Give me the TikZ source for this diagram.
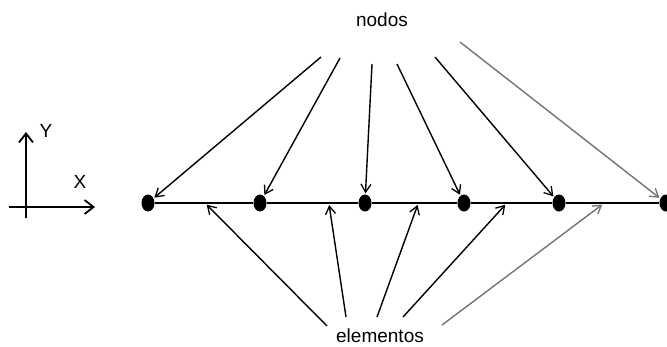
\documentclass[tikz,border=0pt]{standalone}
\usepackage{fontspec}
\setmainfont{Liberation Sans}
\usetikzlibrary{arrows.meta,shapes.geometric}
\begin{document}
\begin{tikzpicture}[x=1pt,y=-1pt,
  dot/.style={ellipse,fill=black,inner sep=0pt,minimum width=13pt,minimum height=17pt},
  lbl/.style={font=\fontsize{19}{19}\selectfont,inner sep=0pt},
  pointer/.style={line width=1.4pt,-{Straight Barb[length=8pt,width=10pt,line width=1.3pt]},shorten >=1pt},
  faint/.style={draw=black!55},
  axis/.style={line width=1.8pt,-{Straight Barb[length=9pt,width=14pt,line width=1.8pt]}}]
\useasboundingbox (0,0) rectangle (667,346);

% axes
\coordinate (ox0) at (9,207);
\coordinate (ox1) at (95,207);
\coordinate (oy0) at (26,218);
\coordinate (oy1) at (26,132);
\draw[axis] (ox0) -- (ox1);
\draw[axis] (oy0) -- (oy1);
\node[lbl] (ylab) at (46,131) {Y};
\node[lbl] (xlab) at (80,182) {X};

% mesh nodes on the bar
\node[dot] (n1) at (148,203) {};
\node[dot] (n2) at (260,203) {};
\node[dot] (n3) at (365,203) {};
\node[dot] (n4) at (464,203) {};
\node[dot] (n5) at (559,203) {};
\node[dot] (n6) at (666,203) {};
\draw[line width=2pt] (n1) -- (n2) -- (n3) -- (n4) -- (n5) -- (n6);

% labels
\node[lbl] (nodos) at (382,20) {nodos};
\node[lbl] (elem) at (380,336) {elementos};

% pointers to the nodes
\coordinate (t1) at (321,57);
\coordinate (t2) at (340,58);
\coordinate (t3) at (372,64);
\coordinate (t4) at (397,64);
\coordinate (t5) at (435,57);
\coordinate (t6) at (460,42);
\draw[pointer] (t1) -- (n1);
\draw[pointer] (t2) -- (n2);
\draw[pointer] (t3) -- (n3);
\draw[pointer] (t4) -- (n4);
\draw[pointer] (t5) -- (n5);
\draw[pointer,faint] (t6) -- (n6);

% pointers to the elements
\coordinate (b1) at (327,326);
\coordinate (b2) at (346,317);
\coordinate (b3) at (377,317);
\coordinate (b4) at (403,317);
\coordinate (b5) at (442,325);
\coordinate (e1) at (206,204);
\coordinate (e2) at (329,204);
\coordinate (e3) at (418,204);
\coordinate (e4) at (506,204);
\coordinate (e5) at (603,204);
\draw[pointer] (b1) -- (e1);
\draw[pointer] (b2) -- (e2);
\draw[pointer] (b3) -- (e3);
\draw[pointer] (b4) -- (e4);
\draw[pointer,faint] (b5) -- (e5);
\end{tikzpicture}
\end{document}
